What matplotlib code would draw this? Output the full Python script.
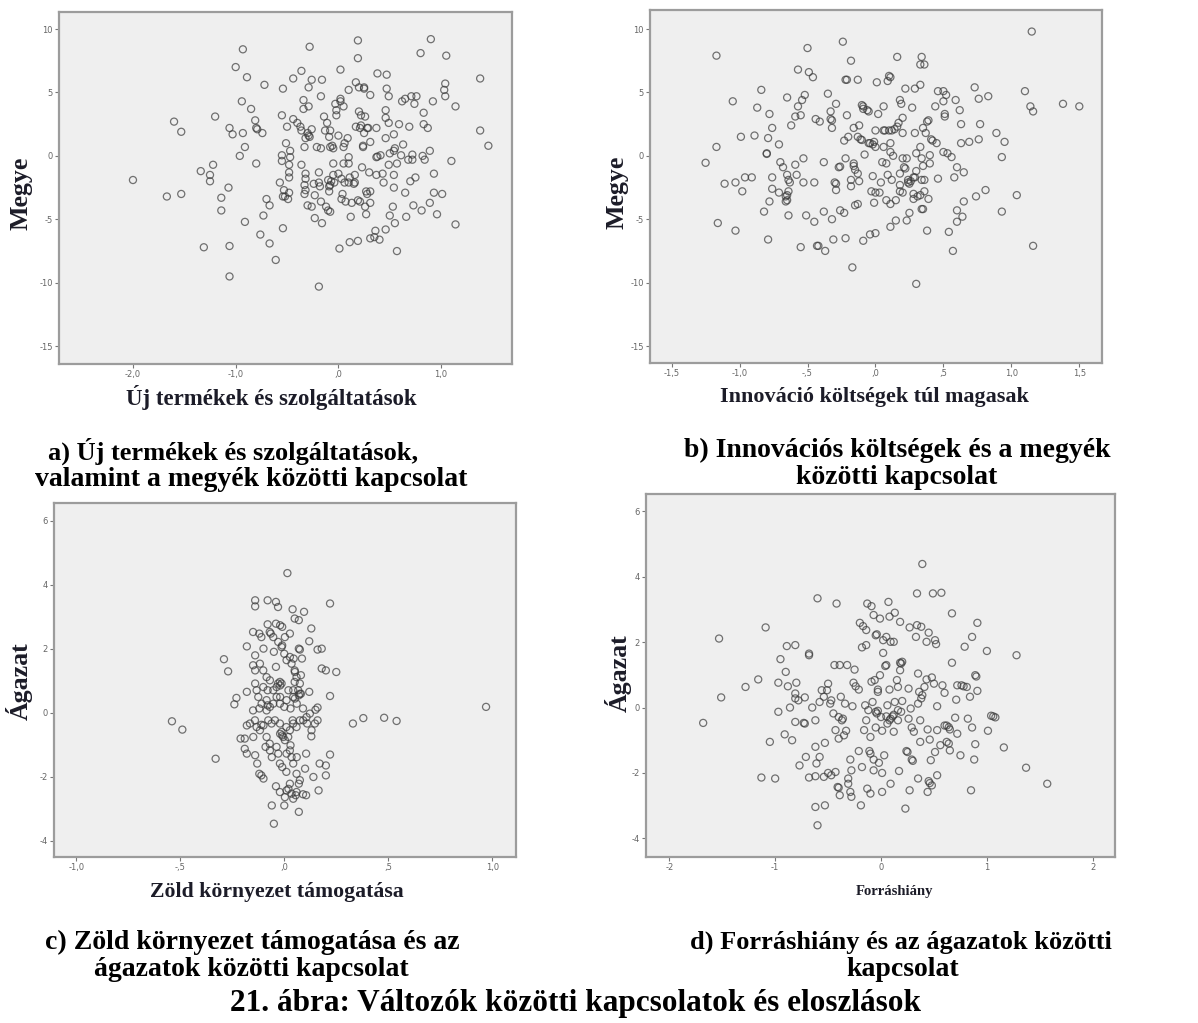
import matplotlib
matplotlib.use("Agg")
import matplotlib.pyplot as plt

# ---------------- data ----------------
a_points = [(-2.00,-1.9),(-1.67,-3.2),(-1.60,2.7),(-1.53,1.9),(-1.53,-3.0),(-1.34,-1.2),(-1.31,-7.2),
(-1.25,-1.5),(-1.25,-2.0),(-1.22,-0.7),(-1.20,3.1),(-1.14,-3.3),(-1.14,-4.3),(-1.07,-2.5),(-1.06,2.2),
(-1.03,1.7),(-1.06,-7.1),(-1.06,-9.5),(-1.00,7.0),(-0.96,0.0),(-0.94,4.3),(-0.93,1.8),(-0.93,8.4),
(-0.91,0.7),(-0.91,-5.2),(-0.89,6.2),(-0.85,3.7),(-0.81,2.8),(-0.80,2.2),(-0.79,2.1),(-0.80,-0.6),
(-0.74,1.8),(-0.76,-6.2),(-0.72,5.6),(-0.73,-4.7),(-0.70,-3.4),(-0.67,-3.9),(-0.67,-6.9),(-0.61,-8.2),
(-0.57,-2.1),(-0.55,3.2),(-0.54,5.3),(-0.55,0.05),(-0.55,-0.4),(-0.54,-5.7),(-0.54,-3.2),(-0.53,-2.7),
(-0.52,-3.2),(-0.51,1.0),(-0.50,2.3),(-0.49,-3.4),(-0.48,-2.9),(-0.47,0.4),(-0.47,-0.1),(-0.48,-0.7),
(-0.48,-1.3),(-0.48,-1.7),(-0.44,6.1),(-0.44,2.9),(-0.40,2.6),(-0.37,2.3),(-0.36,2.0),(-0.36,6.7),
(-0.36,-0.7),(-0.34,4.4),(-0.34,3.7),(-0.33,0.7),(-0.32,1.4),(-0.32,-1.4),(-0.32,-1.8),(-0.33,-2.3),
(-0.32,-2.7),(-0.33,-3.0),(-0.30,1.8),(-0.29,1.6),(-0.29,3.9),(-0.29,5.4),(-0.30,-3.9),(-0.28,8.6),
(-0.26,2.1),(-0.28,1.5),(-0.26,6.0),(-0.26,-4.0),(-0.24,-2.2),(-0.23,-4.9),(-0.23,-3.1),(-0.21,0.7),
(-0.19,-1.3),(-0.19,-2.1),(-0.18,-2.4),(-0.19,-10.3),(-0.17,0.6),(-0.17,4.7),(-0.17,-3.6),(-0.16,-5.3),
(-0.16,6.0),(-0.14,3.1),(-0.13,2.0),(-0.12,-4.0),(-0.11,2.6),(-0.10,-1.9),(-0.09,-2.4),(-0.09,-2.8),
(-0.08,-2.3),(-0.07,-2.0),(-0.10,-4.3),(-0.08,-4.4),(-0.08,0.7),(-0.06,0.8),(-0.08,2.0),(-0.09,1.5),
(-0.05,0.6),(-0.05,-0.6),(-0.05,-1.5),(-0.04,-2.1),(-0.03,4.1),(-0.02,3.6),(-0.02,3.2),(0.00,-1.4),
(0.00,1.6),(0.01,-7.3),(0.02,4.3),(0.02,4.5),(0.02,6.8),(0.03,-1.8),(0.03,-3.4),(0.04,-3.0),(0.05,0.7),
(0.06,1.0),(0.05,-0.6),(0.05,3.9),(0.06,-2.1),(0.07,-3.6),(0.09,1.4),(0.10,-0.1),(0.10,-0.6),(0.10,-2.1),
(0.11,-1.7),(0.10,5.2),(0.11,-6.8),(0.12,-4.8),(0.13,-3.7),(0.15,-2.2),(0.16,-2.1),(0.16,-1.5),(0.17,5.8),
(0.17,2.3),(0.19,-6.7),(0.19,-3.5),(0.19,9.1),(0.19,7.7),(0.20,5.4),(0.20,3.5),(0.22,3.2),(0.21,2.2),
(0.22,2.4),(0.21,-3.6),(0.23,-0.9),(0.25,5.3),(0.25,5.4),(0.24,0.7),(0.24,0.8),(0.25,1.8),(0.26,3.1),
(0.26,-4.0),(0.27,-4.6),(0.28,-3.0),(0.27,-2.8),(0.28,2.2),(0.29,2.2),(0.30,-1.3),(0.31,4.8),(0.31,-2.8),
(0.31,1.1),(0.31,-3.7),(0.31,-6.5),(0.35,-6.4),(0.36,-5.9),(0.37,-0.1),(0.38,-0.05),(0.37,2.2),(0.37,-1.5),
(0.38,6.5),(0.40,-6.6),(0.43,-1.4),(0.41,0.05),(0.44,-2.1),(0.46,3.6),(0.46,3.0),(0.46,1.4),(0.46,-5.8),
(0.47,6.4),(0.47,5.3),(0.49,4.7),(0.49,2.6),(0.49,-0.7),(0.50,0.2),(0.50,-4.7),(0.53,-4.0),(0.54,0.4),
(0.55,0.6),(0.54,-1.5),(0.54,-2.5),(0.54,1.7),(0.55,-5.3),(0.57,-0.6),(0.57,-7.5),(0.59,2.5),(0.61,0.05),
(0.62,4.3),(0.63,0.9),(0.65,4.5),(0.65,-2.9),(0.66,-4.8),(0.68,-0.3),(0.69,2.3),(0.70,-2.0),(0.71,4.7),
(0.72,0.1),(0.72,-0.3),(0.73,-3.9),(0.74,4.1),(0.75,-1.7),(0.76,4.7),(0.80,8.1),(0.81,-4.3),(0.82,0.0),
(0.83,3.4),(0.83,2.5),(0.84,-0.3),(0.87,2.2),(0.89,-3.7),(0.89,0.4),(0.90,9.2),(0.92,4.3),(0.93,-1.4),
(0.93,-2.9),(0.96,-4.6),(1.01,-3.0),(1.03,5.2),(1.04,4.7),(1.05,7.9),(1.04,5.7),(1.10,-0.4),(1.14,3.9),
(1.14,-5.4),(1.38,6.1),(1.38,2.0),(1.46,0.8)]

b_points = [(-1.25,-0.55),(-1.17,7.9),(-1.17,0.7),(-1.16,-5.3),(-1.11,-2.2),(-1.05,4.3),(-1.03,-2.1),
(-1.03,-5.9),(-0.99,1.5),(-0.98,-2.8),(-0.96,-1.7),(-0.91,-1.7),(-0.89,1.6),(-0.87,3.8),(-0.84,5.2),
(-0.82,-4.4),(-0.80,0.2),(-0.80,0.15),(-0.79,1.4),(-0.79,-6.6),(-0.78,-3.6),(-0.78,3.3),(-0.76,2.2),
(-0.76,-1.7),(-0.76,-2.6),(-0.71,-2.9),(-0.71,0.9),(-0.70,-0.5),(-0.68,-0.9),(-0.66,-3.2),(-0.66,-3.6),
(-0.65,-3.5),(-0.65,4.6),(-0.65,-1.5),(-0.64,-1.9),(-0.63,-2.1),(-0.64,-2.8),(-0.65,-3.1),(-0.64,-4.7),
(-0.62,2.4),(-0.59,3.1),(-0.59,-0.7),(-0.58,-1.5),(-0.57,6.8),(-0.57,3.9),(-0.55,3.2),(-0.55,-7.2),
(-0.54,4.4),(-0.53,-0.2),(-0.53,-2.1),(-0.52,4.8),(-0.51,-4.7),(-0.50,8.5),(-0.49,6.6),(-0.46,6.2),
(-0.45,-2.1),(-0.45,-5.2),(-0.44,2.9),(-0.41,2.7),(-0.43,-7.1),(-0.42,-7.1),(-0.38,-0.5),(-0.38,-4.4),
(-0.37,-7.5),(-0.35,4.9),(-0.33,3.5),(-0.33,2.9),(-0.32,2.8),(-0.32,2.2),(-0.32,-5.0),(-0.31,-6.6),
(-0.30,-2.1),(-0.29,-2.2),(-0.29,4.1),(-0.29,-2.7),(-0.27,-0.9),(-0.26,-0.85),(-0.26,-4.3),(-0.23,-4.5),
(-0.24,9.0),(-0.23,1.2),(-0.22,-0.2),(-0.22,6.0),(-0.21,6.0),(-0.22,-6.5),(-0.21,3.2),(-0.20,1.5),
(-0.18,-2.4),(-0.18,7.5),(-0.18,-1.9),(-0.17,-8.8),(-0.16,-0.6),(-0.16,-0.8),(-0.15,-1.1),(-0.16,2.2),
(-0.15,-3.9),(-0.13,6.0),(-0.13,1.5),(-0.13,-3.8),(-0.13,-1.4),(-0.12,-2.0),(-0.12,2.4),(-0.11,1.3),
(-0.10,1.25),(-0.10,4.0),(-0.09,3.9),(-0.09,-6.7),(-0.09,3.7),(-0.08,0.1),(-0.06,3.6),(-0.05,3.5),
(-0.05,1.0),(-0.04,1.0),(-0.04,-6.2),(-0.03,-2.8),(-0.02,-1.6),(-0.01,1.1),(-0.02,0.9),(-0.01,-3.7),
(0.00,0.7),(0.00,-6.1),(0.00,-2.9),(0.00,2.0),(0.01,5.8),(0.02,3.3),(0.03,-2.9),(0.04,-2.1),(0.05,-0.5),
(0.06,2.0),(0.07,2.0),(0.06,3.9),(0.06,0.7),(0.08,-0.6),(0.08,-3.5),(0.09,-1.5),(0.09,5.9),(0.10,6.3),
(0.11,6.2),(0.10,2.0),(0.12,2.0),(0.11,0.3),(0.11,-3.8),(0.11,1.0),(0.11,-5.6),(0.12,-1.9),(0.13,0.0),
(0.14,2.1),(0.15,-3.5),(0.15,-5.1),(0.16,7.8),(0.16,2.3),(0.17,2.6),(0.18,-2.3),(0.18,-2.8),(0.18,-1.4),
(0.19,4.1),(0.18,4.4),(0.20,3.0),(0.20,1.8),(0.20,-2.9),(0.20,-0.2),(0.21,-0.9),(0.22,-1.0),(0.22,5.3),
(0.23,-5.1),(0.23,-0.2),(0.24,-2.1),(0.25,-2.2),(0.24,-1.9),(0.26,-2.0),(0.25,-4.5),(0.27,3.8),(0.28,-1.7),
(0.29,-1.7),(0.28,-3.0),(0.28,-3.4),(0.29,1.8),(0.29,5.3),(0.30,0.2),(0.30,-10.1),(0.30,-1.2),(0.31,-3.2),
(0.33,-3.1),(0.33,0.7),(0.33,7.2),(0.36,7.2),(0.34,7.8),(0.33,5.6),(0.34,-0.2),(0.34,-4.2),(0.35,-4.2),
(0.35,2.2),(0.34,-1.9),(0.36,-1.9),(0.35,-0.8),(0.36,-2.8),(0.37,1.8),(0.38,2.7),(0.39,2.8),(0.38,-5.9),
(0.39,-3.4),(0.40,-0.6),(0.40,0.05),(0.41,1.3),(0.42,1.2),(0.44,3.9),(0.45,1.0),(0.46,-1.8),(0.46,5.1),
(0.50,4.3),(0.50,0.3),(0.50,5.1),(0.52,4.8),(0.51,3.3),(0.51,3.1),(0.53,0.2),(0.54,-6.0),(0.56,-0.1),
(0.57,-7.5),(0.58,-1.7),(0.59,4.4),(0.60,-0.9),(0.60,-4.3),(0.60,-5.2),(0.62,3.6),(0.63,1.0),(0.63,2.5),
(0.64,-4.8),(0.65,-3.6),(0.65,-1.3),(0.69,1.1),(0.73,5.4),(0.74,-3.2),(0.76,4.5),(0.76,1.3),(0.77,2.5),
(0.81,-2.7),(0.83,4.7),(0.89,1.8),(0.93,-0.1),(0.93,-4.4),(0.95,1.1),(1.04,-3.1),(1.10,5.1),(1.14,3.9),
(1.15,9.8),(1.16,-7.1),(1.16,3.5),(1.38,4.1),(1.50,3.9)]

c_points = [(-0.54,-0.27),(-0.49,-0.53),(-0.33,-1.44),(-0.29,1.67),(-0.27,1.29),(-0.24,0.26),(-0.23,0.46),
(-0.18,0.65),(-0.18,2.07),(-0.21,-0.81),(-0.19,-0.81),(-0.19,-1.13),(-0.18,-1.28),(-0.18,-0.40),
(-0.14,3.51),(-0.14,3.32),(-0.15,2.52),(-0.14,1.79),(-0.15,1.48),(-0.14,1.32),(-0.14,0.91),(-0.15,0.07),
(-0.14,-1.33),(-0.13,-1.59),(-0.12,0.13),(-0.12,-1.91),(-0.11,-1.96),(-0.12,2.47),(-0.11,2.36),(-0.10,2.0),
(-0.10,-0.40),(-0.11,-0.38),(-0.10,-2.06),(-0.09,-1.07),(-0.08,3.51),(-0.08,2.76),(-0.08,0.70),(-0.08,0.23),
(-0.07,2.52),(-0.07,-0.97),(-0.065,2.47),(-0.06,-1.39),(-0.06,-2.90),(-0.05,1.90),(-0.05,-3.47),(-0.04,3.46),
(-0.04,2.78),(-0.04,1.43),(-0.04,-2.30),(-0.03,0.91),(-0.02,0.85),(-0.03,3.30),(-0.02,2.73),(-0.01,2.68),
(-0.02,0.49),(-0.02,-0.66),(-0.01,-0.71),(-0.01,-1.70),(-0.01,2.10),(0.0,-2.90),(0.0,1.84),(0.0,0.18),
(0.01,-1.85),(0.01,-0.45),(0.015,4.36),(0.02,-2.38),(0.02,0.70),(0.03,0.13),(0.03,-1.02),(0.04,3.23),
(0.04,-0.24),(0.045,1.69),(0.05,2.94),(0.05,0.96),(0.05,1.32),(0.055,-2.58),(0.06,-1.39),(0.06,0.28),
(0.07,0.54),(0.07,2.0),(0.075,1.97),(0.07,2.89),(0.07,-2.22),(0.07,-3.10),(0.08,1.17),(0.085,1.69),
(0.08,0.59),(0.09,-2.55),(0.095,3.15),(0.09,0.13),(0.10,-1.75),(0.105,-1.28),(0.105,-2.58),(0.11,-0.34),
(0.12,2.23),(0.12,0.65),(0.13,2.63),(0.13,-0.74),(0.14,-2.01),(0.15,0.09),(0.16,0.16),(0.16,1.97),
(0.18,2.0),(0.16,-0.24),(0.165,-2.43),(0.17,-1.59),(0.18,1.38),(0.20,1.32),(0.20,-1.65),(0.20,-1.96),
(0.22,0.52),(0.22,-1.31),(0.22,3.41),(0.25,1.27),(0.33,-0.34),(0.38,-0.17),(0.48,-0.16),(0.54,-0.26),
(0.97,0.18),
(-0.053,0.70),(-0.037,0.80),(-0.021,0.96),(-0.013,0.91),(-0.037,0.49),(-0.021,0.28),(0.011,0.39),
(0.043,0.49),(0.067,0.70),(0.075,0.59),(0.051,0.44),(-0.085,0.39),(-0.069,0.18),(-0.053,0.28),
(-0.077,-0.24),(-0.061,-0.34),(-0.045,-0.24),(-0.021,-0.34),(-0.013,-0.60),(-0.005,-0.76),(0.003,-0.86),
(0.019,-0.76),(0.027,-0.55),(0.043,-0.34),(0.059,-0.45),(0.075,-0.24),(0.091,-0.24),(0.107,-0.14),
(0.123,-0.03),(0.131,-0.55),(0.147,-0.34),(-0.085,-0.76),(-0.069,-1.18),(-0.037,-1.07),(-0.029,-1.28),
(-0.021,-1.59),(0.011,-1.28),(0.027,-1.18),(0.035,-1.39),(0.043,-1.59),(0.059,-1.91),(0.075,-2.11),
(0.027,-2.22),(0.011,-2.43),(0.003,-2.64),(-0.021,-2.48),(0.035,-2.53),(0.043,-2.69),(0.059,-2.48),
(-0.117,1.53),(-0.101,1.32),(-0.085,1.11),(-0.069,1.01),(-0.101,0.80),(-0.133,0.70),(-0.125,0.49),
(-0.109,0.28),(-0.085,0.07),(-0.141,-0.24),(-0.133,-0.45),(-0.117,-0.55),(-0.149,-0.76),(-0.165,-0.34),
(-0.053,2.36),(-0.029,2.21),(-0.013,2.05),(0.003,2.36),(0.027,2.47),(0.027,1.74),(0.011,1.64),
(0.035,1.53),(0.051,1.27),(0.059,1.11),(0.043,0.70),(0.075,0.91)]

d_points = [(-1.68,-0.47),(-1.53,2.11),(-1.51,0.31),(-1.28,0.63),(-1.16,0.86),(-1.13,-2.14),(-1.09,2.45),
(-1.05,-1.05),(-1.00,-2.17),(-0.97,-0.13),(-0.97,0.76),(-0.95,1.48),(-0.91,-0.82),(-0.90,1.09),(-0.89,1.88),
(-0.88,0.65),(-0.86,0.0),(-0.84,-1.0),(-0.81,1.91),(-0.81,0.43),(-0.81,0.28),(-0.80,0.76),(-0.81,-0.44),
(-0.78,0.22),(-0.77,-1.77),(-0.72,-0.49),(-0.73,-0.47),(-0.72,0.31),(-0.71,-1.51),(-0.68,1.65),(-0.68,1.60),
(-0.68,-2.14),(-0.65,0.0),(-0.62,-1.20),(-0.62,-3.04),(-0.62,-0.39),(-0.62,-2.10),(-0.61,-1.71),(-0.60,3.34),
(-0.60,-3.60),(-0.58,-1.51),(-0.58,0.17),(-0.56,0.53),(-0.54,0.33),(-0.54,-2.12),(-0.53,-2.99),(-0.53,-1.08),
(-0.51,0.53),(-0.50,0.73),(-0.50,-2.0),(-0.48,0.12),(-0.47,0.22),(-0.47,-2.07),(-0.45,-0.18),(-0.44,1.30),
(-0.43,-0.69),(-0.43,-1.97),(-0.42,3.18),(-0.41,-2.43),(-0.40,-2.45),(-0.40,-0.29),(-0.40,-0.95),(-0.39,1.30),
(-0.39,-2.68),(-0.38,0.33),(-0.37,-0.39),(-0.36,-0.34),(-0.35,-0.85),(-0.34,0.12),(-0.33,-0.71),(-0.32,1.30),
(-0.31,-2.17),(-0.31,-2.33),(-0.29,-1.59),(-0.29,-2.58),(-0.28,-1.92),(-0.28,-2.73),(-0.27,0.04),(-0.26,0.76),
(-0.24,0.65),(-0.25,1.16),(-0.21,0.55),(-0.21,-1.33),(-0.20,2.59),(-0.19,-2.99),(-0.18,-1.82),(-0.18,1.84),
(-0.17,2.49),(-0.16,-0.69),(-0.15,0.07),(-0.14,1.91),(-0.14,-0.39),(-0.14,2.37),(-0.13,3.18),(-0.13,-2.48),
(-0.12,-0.08),(-0.11,-1.33),(-0.10,-1.41),(-0.10,-0.90),(-0.10,-2.63),(-0.09,0.79),(-0.09,3.10),(-0.08,0.17),
(-0.07,2.83),(-0.07,-1.59),(-0.07,-1.92),(-0.06,0.84),(-0.05,2.21),(-0.04,2.24),(-0.05,-0.13),(-0.04,-0.18),
(-0.03,-0.10),(-0.05,-0.61),(-0.03,0.48),(-0.03,0.55),(-0.02,-1.69),(-0.01,0.99),(-0.01,2.72),(0.00,-0.29),
(0.01,-2.0),(0.01,-0.71),(0.01,-2.58),(0.02,1.67),(0.02,2.06),(0.03,-1.46),(0.04,1.27),(0.05,1.30),
(0.05,-0.27),(0.05,2.16),(0.06,-0.49),(0.08,-0.39),(0.06,0.07),(0.07,3.23),(0.08,2.78),(0.08,0.55),
(0.09,2.01),(0.09,-0.34),(0.09,-2.33),(0.11,-0.27),(0.12,-0.22),(0.12,2.01),(0.12,-0.74),(0.13,0.17),
(0.13,2.90),(0.15,0.84),(0.16,-0.39),(0.16,-0.08),(0.16,0.63),(0.17,-1.94),(0.18,2.62),(0.18,1.37),
(0.19,1.35),(0.20,1.40),(0.18,1.14),(0.19,-0.13),(0.20,0.20),(0.23,-3.09),(0.24,-1.33),(0.25,-1.36),
(0.26,0.58),(0.26,-0.34),(0.27,-2.53),(0.27,2.45),(0.28,-0.03),(0.29,-0.61),(0.29,-1.59),(0.30,-1.63),
(0.31,-0.74),(0.33,2.16),(0.34,3.49),(0.34,2.52),(0.35,1.04),(0.35,0.12),(0.35,-2.17),(0.36,0.48),
(0.37,-0.39),(0.37,-1.05),(0.38,2.47),(0.38,0.28),(0.39,4.39),(0.39,0.38),(0.41,0.63),(0.43,0.86),
(0.43,2.01),(0.44,-0.67),(0.44,-2.58),(0.45,2.29),(0.45,-2.25),(0.46,-2.31),(0.48,-2.38),(0.46,-0.98),
(0.47,-1.61),(0.48,0.92),(0.49,3.49),(0.50,0.73),(0.51,2.06),(0.52,1.94),(0.51,-1.36),(0.53,-0.69),
(0.53,0.04),(0.53,-2.07),(0.56,-1.15),(0.57,3.51),(0.58,0.68),(0.60,0.45),(0.60,-0.55),(0.62,-0.55),
(0.64,-0.60),(0.62,-1.05),(0.64,-1.10),(0.65,-1.31),(0.65,-0.67),(0.67,2.88),(0.67,1.37),(0.70,-0.31),
(0.71,0.24),(0.72,-0.80),(0.72,0.68),(0.76,0.68),(0.78,0.65),(0.81,0.63),(0.75,-1.46),(0.79,1.86),
(0.82,-0.34),(0.84,0.33),(0.85,-2.53),(0.86,-0.61),(0.86,2.16),(0.88,-1.59),(0.89,-1.12),(0.89,0.99),
(0.90,0.95),(0.91,0.51),(0.91,2.59),(1.00,1.73),(1.01,-0.71),(1.04,-0.25),(1.06,-0.27),(1.08,-0.30),
(1.16,-1.22),(1.28,1.60),(1.37,-1.84),(1.57,-2.33)]

a_xticks = [-2.0, -1.0, 0.0, 1.0]
a_xticklabels = ["-2,0", "-1,0", ",0", "1,0"]
b_xticks = [-1.5, -1.0, -0.5, 0.0, 0.5, 1.0, 1.5]
b_xticklabels = ["-1,5", "-1,0", "-,5", ",0", ",5", "1,0", "1,5"]
c_xticks = [-1.0, -0.5, 0.0, 0.5, 1.0]
c_xticklabels = ["-1,0", "-,5", ",0", ",5", "1,0"]
d_xticks = [-2, -1, 0, 1, 2]
d_xticklabels = ["-2", "-1", "0", "1", "2"]
ab_yticks = [10, 5, 0, -5, -10, -15]
cd_yticks = [6, 4, 2, 0, -2, -4]

xlabels = ["Új termékek és szolgáltatások", "Innováció költségek túl magasak",
           "Zöld környezet támogatása", "Forráshiány"]
ylabels = ["Megye", "Megye", "Ágazat", "Ágazat"]
captions = [["a) Új termékek és szolgáltatások,", "valamint a megyék közötti kapcsolat"],
            ["b) Innovációs költségek és a megyék", "közötti kapcsolat"],
            ["c) Zöld környezet támogatása és az", "ágazatok közötti kapcsolat"],
            ["d) Forráshiány és az ágazatok közötti", "kapcsolat"]]
figure_title = "21. ábra: Változók közötti kapcsolatok és eloszlások"

# ---------------- layout ----------------
W, H = 1198, 1023
fig = plt.figure(figsize=(W / 100, H / 100), dpi=100)
fig.patch.set_facecolor("white")
SERIF = ["Liberation Serif", "DejaVu Serif"]


def fx(px):
    return px / W


def fy(py):
    return 1 - py / H


# axes boxes in pixels: left, top, right, bottom
boxes = [(59, 12, 512, 364), (650, 10, 1102, 363), (54, 503, 516, 857), (646, 494, 1115, 857)]
xlims = [(-2.72, 1.69), (-1.659, 1.667), (-1.107, 1.114), (-2.22, 2.21)]
ylims = [(-16.4, 11.34), (-16.34, 11.5), (-4.51, 6.55), (-4.57, 6.53)]
points = [a_points, b_points, c_points, d_points]
xt = [(a_xticks, a_xticklabels), (b_xticks, b_xticklabels), (c_xticks, c_xticklabels), (d_xticks, d_xticklabels)]
yt = [ab_yticks, ab_yticks, cd_yticks, cd_yticks]

# label positions (pixels): xlabel center, ylabel center
xlabel_pos = [(271, 397, 16.5), (874, 397, 15.9), (277, 892, 15.7), (894, 892, 10.5)]
ylabel_pos = [(21, 193), (617, 192), (19, 681), (618, 673)]
caption_pos = [[(233, 451, 19), (251, 480, 20)], [(897, 450, 20), (897, 478, 20)],
               [(252, 942, 20), (251, 970, 20)], [(901, 942, 19), (903, 970, 20)]]

for i in range(4):
    l, t, r, b = boxes[i]
    ax = fig.add_axes([fx(l), fy(b), (r - l) / W, (b - t) / H])
    ax.set_facecolor("#efefef")
    xs = [p[0] for p in points[i]]
    ys = [p[1] for p in points[i]]
    ax.scatter(xs, ys, s=26, facecolors="none", edgecolors="#3a3a3a",
               linewidths=0.9, alpha=0.7, zorder=3)
    ax.set_xlim(*xlims[i])
    ax.set_ylim(*ylims[i])
    ax.set_xticks(xt[i][0])
    ax.set_xticklabels(xt[i][1])
    ax.set_yticks(yt[i])
    ax.set_yticklabels([str(v) for v in yt[i]])
    ax.tick_params(axis="both", direction="out", length=3, width=0.8, color="#777777",
                   labelsize=6, labelcolor="#666666", pad=1.5)
    for sp in ax.spines.values():
        sp.set_color("#9c9c9c")
        sp.set_linewidth(1.6)
    # axis labels
    xlx, xly, xfs = xlabel_pos[i]
    fig.text(fx(xlx), fy(xly), xlabels[i], ha="center", va="center",
             fontsize=xfs, fontweight="bold", family=SERIF, color="#1c1c28")
    ylx, yly = ylabel_pos[i]
    fig.text(fx(ylx), fy(yly), ylabels[i], ha="center", va="center", rotation=90,
             fontsize=18.6, fontweight="bold", family=SERIF, color="#1c1c28")
    # captions
    for (cx, cy, cfs), line in zip(caption_pos[i], captions[i]):
        fig.text(fx(cx), fy(cy), line, ha="center", va="center",
                 fontsize=cfs, fontweight="bold", family=SERIF, color="black")

fig.text(fx(575), fy(1003), figure_title, ha="center", va="center",
         fontsize=22.5, fontweight="bold", family=SERIF, color="black")

fig.savefig("out.png", dpi=100, facecolor="white")
